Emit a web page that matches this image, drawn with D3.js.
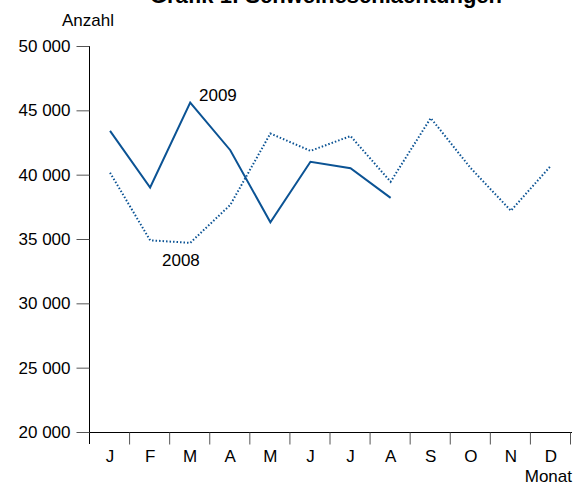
<!DOCTYPE html>
<html>
<head>
<meta charset="utf-8">
<script src="https://cdn.jsdelivr.net/npm/d3@7"></script>
<style>
  body { margin: 0; background: #fff; }
  svg { display: block; font-family: "Liberation Sans", Arial, sans-serif; }
</style>
</head>
<body>
<div class="canvas"></div>
<script>
// DATA
const months = ["J", "F", "M", "A", "M", "J", "J", "A", "S", "O", "N", "D"];
const values2008 = [40150, 34900, 34700, 37650, 43200, 41850, 43000, 39450, 44400, 40500, 37200, 40700];
const values2009 = [43400, 39000, 45600, 41900, 36300, 41000, 40500, 38200];
const yTicks = [20000, 25000, 30000, 35000, 40000, 45000, 50000];

const title = "Grafik 1: Schweineschlachtungen";
const lineColor = "#0b5394";

const W = 573, H = 486;
const margins = { top: 46, right: 2, bottom: 54, left: 90 };

const svg = d3.select(".canvas")
  .append("svg")
  .attr("width", W)
  .attr("height", H);

// SCALES
const xScale = d3.scaleBand()
  .domain(d3.range(months.length))
  .range([margins.left, W - margins.right]);

const yScale = d3.scaleLinear()
  .domain([20000, 50000])
  .range([H - margins.bottom, margins.top]);

const fmt = v => d3.format(",")(v).replace(/,/g, " ");

// AXES
const yAxis = svg.append("g")
  .attr("transform", `translate(${margins.left - 0.5},0)`)
  .call(d3.axisLeft(yScale).tickValues(yTicks).tickSize(13).tickPadding(6).tickFormat(fmt));
yAxis.select(".domain").attr("stroke", "#000").attr("d", `M0,${yScale(50000)}V${yScale(20000) + 12}`);
yAxis.selectAll(".tick line").attr("stroke", "#555");
yAxis.selectAll(".tick text").attr("font-size", 17).attr("fill", "#000");

const x0 = xScale.range()[0];
const bounds = d3.range(months.length + 1).map(i => x0 + i * xScale.bandwidth());

const xAxis = svg.append("g")
  .attr("transform", `translate(0,${yScale(20000) + 0.5})`);
xAxis.append("line")
  .attr("x1", x0).attr("x2", W - margins.right + 1)
  .attr("stroke", "#000");
xAxis.selectAll(".tk")
  .data(bounds.slice(1))
  .enter()
  .append("line")
  .attr("x1", d => d - 0.5).attr("x2", d => d - 0.5)
  .attr("y1", 0).attr("y2", 12)
  .attr("stroke", "#555");
xAxis.selectAll(".lbl")
  .data(months)
  .enter()
  .append("text")
  .attr("x", (d, i) => xScale(i) + xScale.bandwidth() / 2)
  .attr("y", 29)
  .attr("text-anchor", "middle")
  .attr("font-size", 17)
  .text(d => d);

// LINES
const line = d3.line()
  .x((d, i) => xScale(i) + xScale.bandwidth() / 2)
  .y(d => yScale(d));

svg.append("path")
  .datum(values2008)
  .attr("d", line)
  .attr("fill", "none")
  .attr("stroke", lineColor)
  .attr("stroke-width", 2)
  .attr("stroke-dasharray", "1.5,2");

svg.append("path")
  .datum(values2009)
  .attr("d", line)
  .attr("fill", "none")
  .attr("stroke", lineColor)
  .attr("stroke-width", 2)
  .attr("stroke-linejoin", "miter");

// LABELS
svg.append("text").attr("x", 199).attr("y", 101).attr("font-size", 17).text("2009");
svg.append("text").attr("x", 162).attr("y", 266).attr("font-size", 17).text("2008");
svg.append("text").attr("x", 62).attr("y", 26).attr("font-size", 17).text("Anzahl");
svg.append("text").attr("x", 572).attr("y", 482).attr("font-size", 17).attr("text-anchor", "end").text("Monat");
// title is cropped at the top edge in the original as well
svg.append("text").attr("x", 326).attr("y", 3).attr("font-size", 22).attr("font-weight", "bold")
  .attr("text-anchor", "middle").text(title);
</script>
</body>
</html>
